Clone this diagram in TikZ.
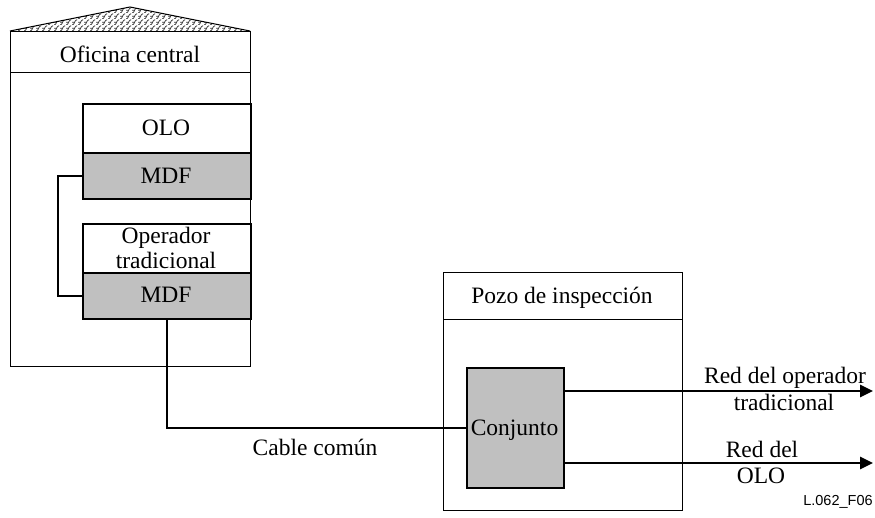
\documentclass[tikz,border=0pt]{standalone}
\usepackage{fontspec}
\setmainfont{Liberation Serif}
\newfontfamily\labelsans{Liberation Sans}
\usetikzlibrary{patterns.meta,arrows.meta}
\definecolor{boxgray}{RGB}{192,192,192}
\pgfdeclarepattern{
  name=roofscale,
  type=uncolored,
  bottom left={\pgfpoint{0pt}{0pt}},
  top right={\pgfpoint{6pt}{6pt}},
  tile size={\pgfpoint{6pt}{6pt}},
  code={
    \pgfsetlinewidth{0.9pt}
    \pgfpathmoveto{\pgfpoint{0pt}{0pt}}
    \pgfpathcurveto{\pgfpoint{4pt}{0.5pt}}{\pgfpoint{2pt}{5.5pt}}{\pgfpoint{6pt}{6pt}}
    \pgfpathmoveto{\pgfpoint{0pt}{3pt}}
    \pgfpathlineto{\pgfpoint{2.5pt}{3pt}}
    \pgfusepath{stroke}
  }
}
\begin{document}
\begin{tikzpicture}[x=1pt,y=-1pt,
  thinbox/.style={draw,line width=1pt,rectangle,inner sep=0pt,anchor=north west},
  thickbox/.style={draw,line width=2pt,rectangle,inner sep=0pt,anchor=north west},
  graybox/.style={thickbox,fill=boxgray},
  txt/.style={font=\fontsize{23.5}{25}\selectfont,anchor=base,inner sep=0pt},
  cable/.style={line width=2.6pt},
  netarrow/.style={line width=2.6pt,-{Triangle[length=13pt,width=12pt]}},
]
\useasboundingbox (0,0) rectangle (875,517);
% roof
\fill[pattern=roofscale,pattern color=black!75] (10,31) -- (130,7) -- (250,31) -- cycle;
\draw[line width=1pt] (10,31) -- (130,7) -- (250,31);
% building
\node[thinbox,minimum width=240pt,minimum height=335pt] (bld) at (10,31) {};
\draw[line width=1pt] (10,72) -- (250,72);
\node[txt] (ofi) at (130,62) {Oficina central};
% boxes
\node[thickbox,minimum width=168pt,minimum height=49pt] (olo) at (82,103) {};
\node[graybox,minimum width=168pt,minimum height=46pt] (mdf1) at (82,152) {};
\node[thickbox,minimum width=168pt,minimum height=49pt] (opt) at (82,223) {};
\node[graybox,minimum width=168pt,minimum height=46pt] (mdf2) at (82,272) {};
\node[txt] (olot) at (166,135) {OLO};
\node[txt] (mdf1t) at (166,183) {MDF};
\node[txt] (opt1) at (166,243) {Operador};
\node[txt] (opt2) at (166,268) {tradicional};
\node[txt] (mdf2t) at (166,302) {MDF};
% pozo
\node[thinbox,minimum width=239pt,minimum height=238pt] (pozo) at (443,272) {};
\draw[line width=1pt] (443,319) -- (682,319);
\node[txt] (pozot) at (562,303) {Pozo de inspección};
\node[graybox,minimum width=97pt,minimum height=120pt] (conj) at (466,367) {};
\node[txt] (conjt) at (514.5,435) {Conjunto};
% connectors
\draw[cable] (mdf1.west) -- ++(-24,0) |- (mdf2.west);
\draw[cable] (mdf2.south) |- (conj.west);
\node[txt] (cablet) at (315,455) {Cable común};
\coordinate (end1) at (873,391);
\coordinate (end2) at (873,463);
\draw[netarrow] (conj.east |- end1) -- (end1);
\draw[netarrow] (conj.east |- end2) -- (end2);
\node[txt] (red1) at (785,383) {Red del operador};
\node[txt] (red2) at (784,410) {tradicional};
\node[txt] (red3) at (762,457) {Red del};
\node[txt] (red4) at (761,483) {OLO};
\node[anchor=base,inner sep=0pt,font=\labelsans\fontsize{14.5}{16}\selectfont] (fig) at (838,505) {L.062\_F06};
\end{tikzpicture}
\end{document}
